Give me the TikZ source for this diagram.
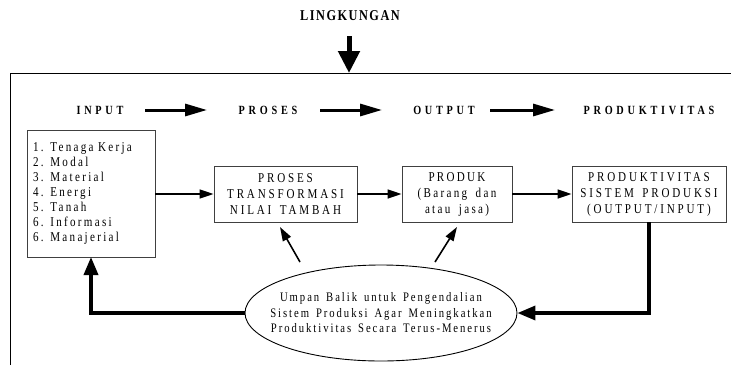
\documentclass[tikz,border=0pt]{standalone}
\usepackage{fontspec}
\setmainfont{Liberation Serif}
\newfontfamily\lsA[FakeStretch=0.82,LetterSpace=17,WordSpace=1.7]{Liberation Serif}
\newfontfamily\lsB[FakeStretch=0.82,LetterSpace=21,WordSpace=1.5]{Liberation Serif}
\newfontfamily\lsC[FakeStretch=0.82,LetterSpace=15,WordSpace=1.5]{Liberation Serif}
\newfontfamily\lsH[FakeStretch=0.82,LetterSpace=30]{Liberation Serif}
\newfontfamily\lsE[FakeStretch=0.82,LetterSpace=10]{Liberation Serif}
\usetikzlibrary{arrows.meta,shapes.geometric}
\tikzset{
  boxnode/.style={draw=black!75, line width=0.9pt, align=center, inner sep=0pt,
     minimum height=56pt, font=\lsA\fontsize{13.5}{16}\selectfont},
  capsbox/.style={boxnode, font=\lsB\fontsize{13.5}{16}\selectfont},
  hdr/.style={font=\lsH\bfseries\fontsize{12.5}{13}\selectfont, inner sep=0pt},
  conn/.style={line width=1.6pt, -{Triangle[length=14pt,width=9pt]}},
  fb/.style={line width=3.5pt, -{Triangle[length=18pt,width=14pt]}},
  hdarrow/.style={line width=3pt, -{Triangle[length=22pt,width=12pt]}},
  envarrow/.style={line width=5pt, -{Triangle[length=22pt,width=21pt]}},
}
\begin{document}
\begin{tikzpicture}[x=1pt,y=-1pt]
\useasboundingbox (0,0) rectangle (731,365);
% frame
\draw[line width=1pt] (10,365) -- (10,73) -- (731,73);
% environment
\node[font=\lsE\bfseries\fontsize{15}{16}\selectfont, inner sep=0pt] (env) at (350,16) {LINGKUNGAN};
\coordinate (frm) at (349,73);
\draw[envarrow] (349,36) -- (frm);
% header row
\node[hdr] (hIn) at (100,110) {INPUT};
\node[hdr] (hPr) at (268,110) {PROSES};
\node[hdr] (hOut) at (444,110) {OUTPUT};
\node[hdr] (hPk) at (649,110) {PRODUKTIVITAS};
\coordinate (a1s) at (145,110); \coordinate (a1e) at (207,110);
\coordinate (a2s) at (320,110); \coordinate (a2e) at (382,110);
\coordinate (a3s) at (490,110); \coordinate (a3e) at (555,110);
\draw[hdarrow] (a1s) -- (a1e);
\draw[hdarrow] (a2s) -- (a2e);
\draw[hdarrow] (a3s) -- (a3e);
% boxes
\node[draw=black!75, line width=0.9pt, align=left, text width=116pt, inner xsep=6pt, inner ysep=0pt,
      minimum height=127pt, font=\lsA\fontsize{13.5}{15}\selectfont] (inp) at (91,193.5)
  {1. Tenaga Kerja\\2. Modal\\3. Material\\4. Energi\\5. Tanah\\6. Informasi\\6. Manajerial};
\node[capsbox, minimum width=143pt] (pro) at (285.5,194) {PROSES\\TRANSFORMASI\\NILAI TAMBAH};
\node[boxnode, minimum width=110pt] (prd) at (457,194) {PRODUK\\(Barang dan\\atau jasa)};
\node[capsbox, minimum width=154pt] (pk) at (649,194) {PRODUKTIVITAS\\SISTEM PRODUKSI\\(OUTPUT/INPUT)};
% ellipse
\node[ellipse, draw, line width=0.9pt, minimum width=272pt, minimum height=96pt, inner sep=0pt] (ell) at (381,313) {};
\node[align=center, inner sep=0pt, font=\lsC\fontsize{13}{15.5}\selectfont] (ellT) at (ell.center)
  {Umpan Balik untuk Pengendalian\\Sistem Produksi Agar Meningkatkan\\Produktivitas Secara Terus-Menerus};
% connectors
\draw[conn] (inp.east |- pro.west) -- (pro.west);
\draw[conn] (pro.east) -- (prd.west);
\draw[conn] (prd.east) -- (pk.west);
\coordinate (t1) at (300,262); \coordinate (h1) at (280,227);
\coordinate (t2) at (435,262); \coordinate (h2) at (457,227);
\draw[conn] (t1) -- (h1);
\draw[conn] (t2) -- (h2);
\coordinate (fbL) at (91,257);
\draw[fb] (ell.west) -| (fbL);
\draw[fb] (pk.south) |- (ell.east);
\end{tikzpicture}
\end{document}
